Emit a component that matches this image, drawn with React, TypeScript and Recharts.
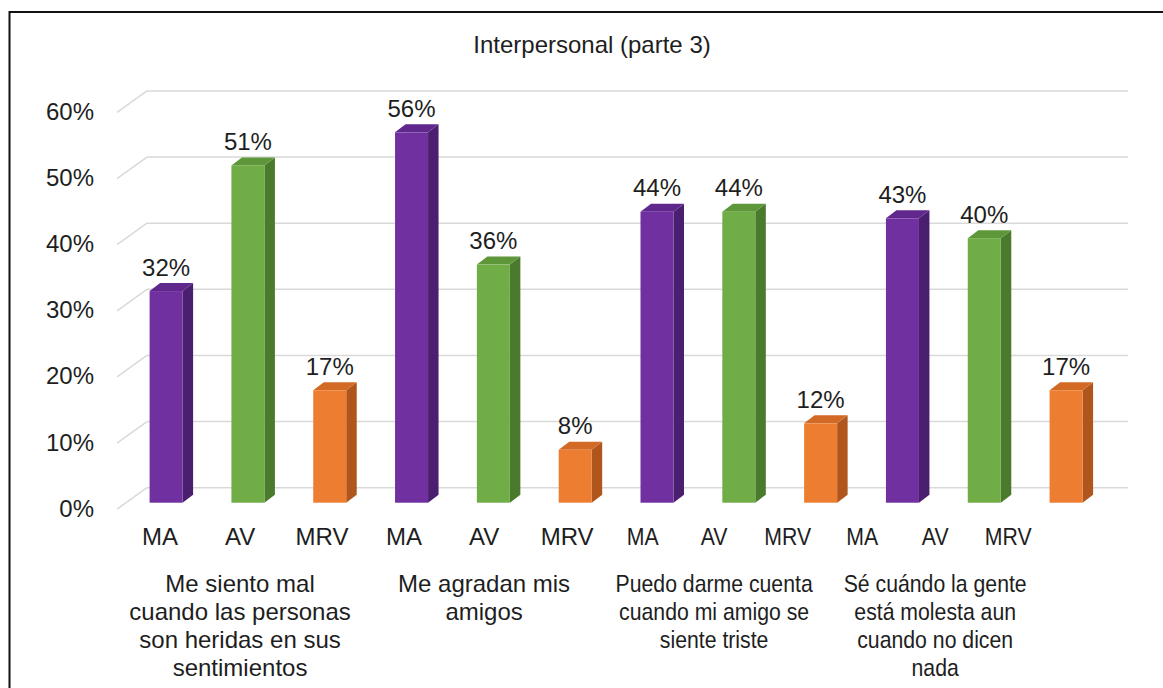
import { BarChart, Bar, XAxis, YAxis, CartesianGrid, Cell } from 'recharts'

const title = 'Interpersonal (parte 3)'
const levels = ['MA', 'AV', 'MRV']
const groupLines = [
  ['Me siento mal', 'cuando las personas', 'son heridas en sus', 'sentimientos'],
  ['Me agradan mis', 'amigos'],
  ['Puedo darme cuenta', 'cuando mi amigo se', 'siente triste'],
  ['Sé cuándo la gente', 'está molesta aun', 'cuando no dicen', 'nada'],
]
const maValues = [32, 56, 44, 43]
const avValues = [51, 36, 44, 40]
const mrvValues = [17, 8, 12, 17]
const yTicks = [0, 10, 20, 30, 40, 50, 60]

const seriesByLevel: Record<string, number[]> = { MA: maValues, AV: avValues, MRV: mrvValues }

const data = groupLines.flatMap((_, g) =>
  levels.map((level) => ({ key: `${g}-${level}`, group: g, level, value: seriesByLevel[level][g] })),
)

// front / side / top faces
const palette: Record<string, { front: string; side: string; top: string }> = {
  MA: { front: '#7030a0', side: '#4b1f6f', top: '#60288c' },
  AV: { front: '#70ad47', side: '#4a7a2c', top: '#5e963a' },
  MRV: { front: '#ed7d31', side: '#b0561c', top: '#d26a26' },
}

const font = '"Liberation Sans", Arial, sans-serif'
const textColor = '#1e1e1e'
const gridColor = '#d9d9d9'
const DX = 10.5
const DY = 8
// Excel drew the category labels drifting left of the bars, and squeezed the right half
const labelShift = [-6.5, -8.3, -8.1, -7.9, -9.7, -8.5, -14.8, -25.1, -33.4, -40.7, -49.5, -58.3]
const groupScale = [1, 1, 0.885, 0.885]

const gridLine = (props: any) => {
  const { y1, key } = props
  return (
    <g key={key}>
      <line x1={117} y1={y1 + 6.5} x2={147} y2={y1 - 15} stroke={gridColor} strokeWidth={1.5} />
      <line x1={147} y1={y1 - 15} x2={1128} y2={y1 - 15} stroke={gridColor} strokeWidth={1.5} />
    </g>
  )
}

const Bar3D = (props: any) => {
  const { x, y, width, height, payload } = props
  const c = palette[payload.level]
  const r = x + width
  const b = y + height
  return (
    <g>
      <polygon points={`${r},${y} ${r + DX},${y - DY} ${r + DX},${b - DY} ${r},${b}`} fill={c.side} />
      <polygon points={`${x},${y} ${x + DX},${y - DY} ${r + DX},${y - DY} ${r},${y}`} fill={c.top} />
      <rect x={x} y={y} width={width} height={height} fill={c.front} />
    </g>
  )
}

const valueLabel = (props: any) => {
  const { x, y, width, value } = props
  return (
    <text x={x + width / 2} y={y - 15.5} textAnchor="middle" fontSize={24} fontFamily={font} fill={textColor}>
      {`${value}%`}
    </text>
  )
}

const YTick = (props: any) => {
  const { y, payload } = props
  return (
    <text x={94} y={y + 14} textAnchor="end" fontSize={24} fontFamily={font} fill={textColor}>
      {`${payload.value}%`}
    </text>
  )
}

const XTick = (props: any) => {
  const { x, index } = props
  const row = data[index]
  if (!row) return null
  const cx = x + labelShift[index]
  const s = groupScale[row.group]
  return (
    <g transform={`translate(${cx},0) scale(${s},1)`}>
      <text x={0} y={545} textAnchor="middle" fontSize={24} fontFamily={font} fill={textColor}>
        {row.level}
      </text>
      {index % 3 === 1 &&
        groupLines[row.group].map((line, i) => (
          <text key={i} x={0} y={592 + i * 28} textAnchor="middle" fontSize={24} fontFamily={font} fill={textColor}>
            {line}
          </text>
        ))}
    </g>
  )
}

export default function App() {
  return (
    <div style={{ position: 'absolute', left: 0, top: 0, width: 1163, height: 688, background: '#fff', overflow: 'hidden' }}>
      <BarChart
        width={1163}
        height={688}
        data={data}
        margin={{ top: 105.9, right: 55.6, bottom: 35.3, left: 25.6 }}
        barSize={33}
      >
        <CartesianGrid vertical={false} horizontal={gridLine} />
        <XAxis dataKey="key" axisLine={false} tickLine={false} interval={0} height={150} tick={<XTick />} />
        <YAxis type="number" domain={[0, 60]} ticks={yTicks} axisLine={false} tickLine={false} width={100} tick={<YTick />} />
        <Bar dataKey="value" shape={<Bar3D />} label={valueLabel} isAnimationActive={false}>
          {data.map((d) => (
            <Cell key={d.key} fill={palette[d.level].front} />
          ))}
        </Bar>
      </BarChart>
      <svg width={1163} height={688} style={{ position: 'absolute', left: 0, top: 0, pointerEvents: 'none' }}>
        <rect x={9.5} y={12} width={1170} height={700} fill="none" stroke="#111" strokeWidth={2} />
        <text x={592} y={53} textAnchor="middle" fontSize={24} fontFamily={font} fill={textColor}>
          {title}
        </text>
      </svg>
    </div>
  )
}
